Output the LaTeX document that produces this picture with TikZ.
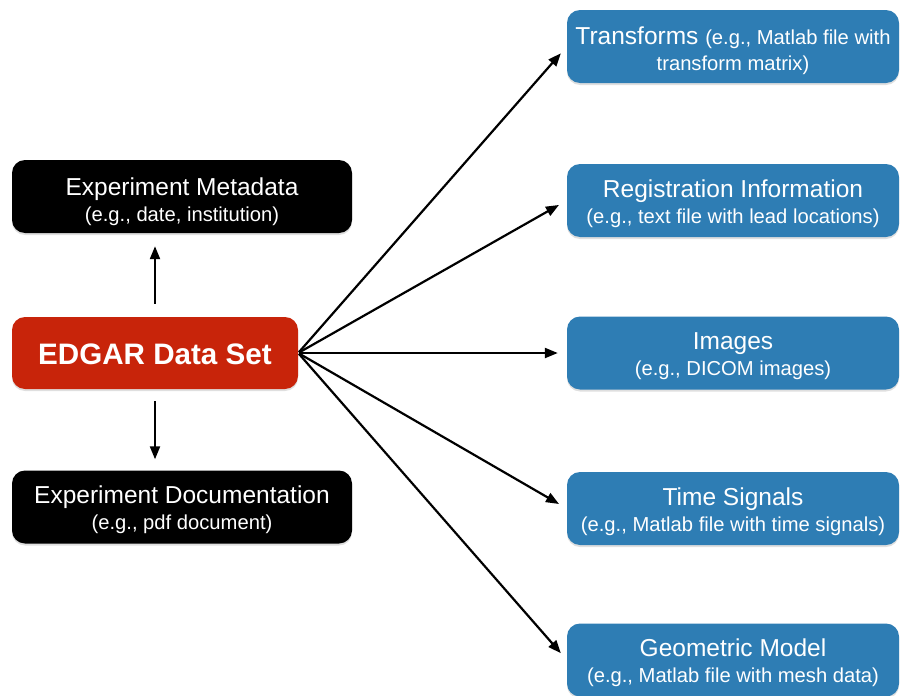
\documentclass[tikz,border=0pt]{standalone}
\usepackage{fontspec}
\setmainfont{Liberation Sans}
\usetikzlibrary{arrows.meta,shadows}
\definecolor{boxblue}{RGB}{46,125,180}
\definecolor{boxred}{RGB}{200,36,10}
\tikzset{
  box/.style={rectangle, rounded corners=13pt, text=white, align=center, inner sep=0pt,
    drop shadow={opacity=0.25, shadow xshift=0pt, shadow yshift=-2pt},
    font=\fontsize{24.5}{26}\selectfont},
  blackbox/.style={box, fill=black, minimum width=340pt, minimum height=73pt},
  bluebox/.style={box, fill=boxblue, minimum width=332pt, minimum height=73pt},
  redbox/.style={box, fill=boxred, minimum width=286pt, minimum height=72pt,
    font=\fontsize{29.6}{32}\selectfont\bfseries},
  arr/.style={line width=2.2pt, -{Triangle[length=13pt,width=10pt]}},
}
\newcommand{\subt}[1]{{\fontsize{20.2}{22}\selectfont #1}}
\newcommand{\lift}[1][24pt]{\rule{0pt}{#1}}
\begin{document}
\begin{tikzpicture}[x=1pt,y=-1pt]
\useasboundingbox (0,0) rectangle (900,696);
\node[redbox] (edgar) at (155,353) {\lift EDGAR Data Set};
\node[blackbox] (meta) at (182,196.5) {\lift[29pt]Experiment Metadata\\\subt{(e.g., date, institution)}};
\node[blackbox] (doc) at (182,507) {\lift Experiment Documentation\\\subt{(e.g., pdf document)}};
\node[bluebox] (trans) at (733,46.5) {\lift[26pt]Transforms \subt{(e.g., Matlab file with}\\\subt{transform matrix)}};
\node[bluebox] (reg) at (733,200.5) {\lift Registration Information\\\subt{(e.g., text file with lead locations)}};
\node[bluebox] (img) at (733,353) {\lift Images\\\subt{(e.g., DICOM images)}};
\node[bluebox] (time) at (733,508.5) {\lift Time Signals\\\subt{(e.g., Matlab file with time signals)}};
\node[bluebox] (geo) at (733,660) {\lift Geometric Model\\\subt{(e.g., Matlab file with mesh data)}};
\draw[arr, shorten <=13pt, shorten >=13pt] (edgar.north) -- (edgar.north |- meta.south);
\draw[arr, shorten <=12pt, shorten >=11pt] (edgar.south) -- (edgar.south |- doc.north);
\foreach \t in {trans,reg,img,time,geo}{
  \draw[arr, shorten <=1pt, shorten >=9pt] (edgar.east) -- (\t.west);
}
\end{tikzpicture}
\end{document}
